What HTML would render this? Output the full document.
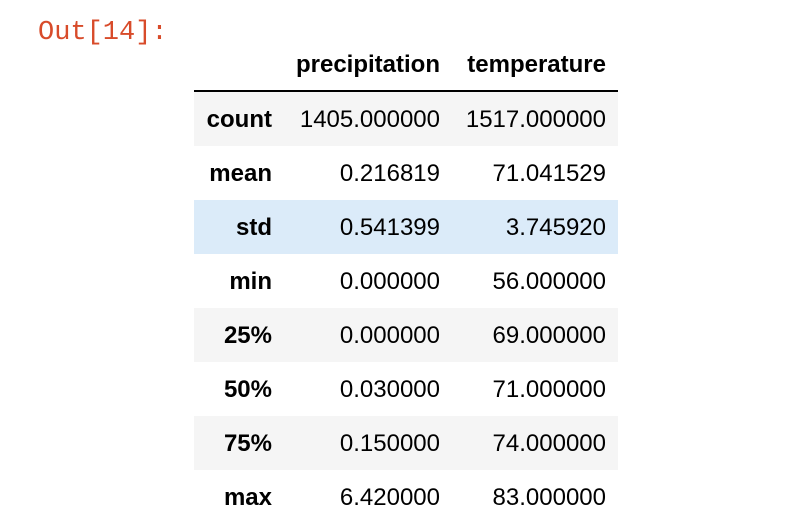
<!DOCTYPE html>
<html><head><meta charset="utf-8"><style>
body{margin:0;width:790px;height:526px;background:#fff;position:relative;overflow:hidden;font-family:"Liberation Sans",Arial,sans-serif;color:#000}
.out{position:absolute;left:38px;top:18px;font-family:"Liberation Mono",monospace;font-size:27px;color:#d84b2a}
.hdr{position:absolute;top:51px;font-weight:bold;font-size:24px;text-align:right}
.line{position:absolute;left:194px;width:424px;top:90px;height:2px;background:#000}
.row{position:absolute;left:194px;width:424px;height:54px}
.c{position:absolute;top:1px;line-height:54px;font-size:24px;text-align:right}
.i{right:346px;font-weight:bold}
.p{right:178px}.t{right:12px}
</style></head><body>
<div class="out">Out[14]:</div>
<div class="hdr" style="right:350px">precipitation</div>
<div class="hdr" style="right:184px">temperature</div>
<div class="line"></div>
<div id="rows"></div>
<script>
const stats=["count","mean","std","min","25%","50%","75%","max"];
const precip=["1405.000000","0.216819","0.541399","0.000000","0.000000","0.030000","0.150000","6.420000"];
const temp=["1517.000000","71.041529","3.745920","56.000000","69.000000","71.000000","74.000000","83.000000"];
const bgs=["#f5f5f5","#fff","#dbebf9","#fff","#f5f5f5","#fff","#f5f5f5","#fff"];
const host=document.getElementById('rows');
stats.forEach((s,k)=>{
  const r=document.createElement('div');
  r.className='row';
  r.style.top=(92+k*54)+'px';
  r.style.background=bgs[k];
  
  
  r.innerHTML='<div class="c i">'+s+'</div><div class="c p">'+precip[k]+'</div><div class="c t">'+temp[k]+'</div>';
  host.appendChild(r);
});
</script>
</body></html>
